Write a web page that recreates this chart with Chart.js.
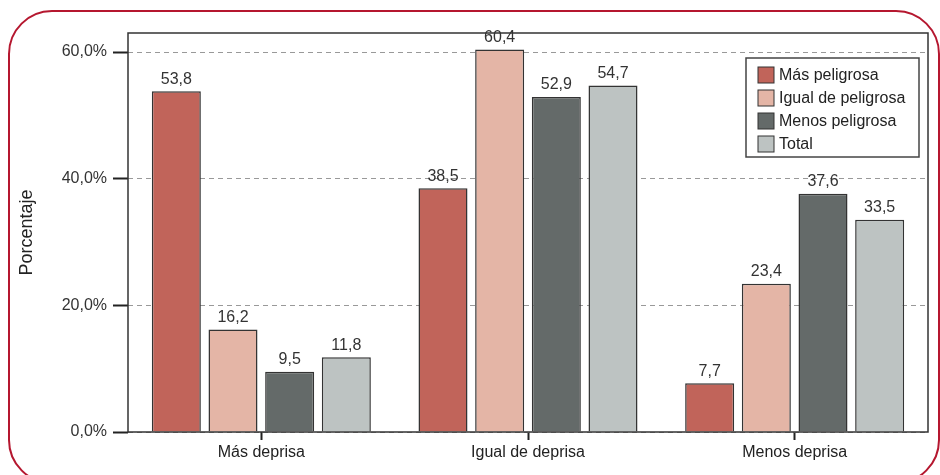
<!DOCTYPE html>
<html lang="es">
<head>
  <meta charset="UTF-8">
  <title>Porcentaje por velocidad</title>
  <script src="https://cdn.jsdelivr.net/npm/chart.js"></script>
  <style>
    html, body { margin: 0; padding: 0; background: #fff; overflow: hidden; }
    .wrap { position: relative; width: 940px; height: 475px; }
    .frame { position: absolute; left: 8px; top: 10px; width: 928px; height: 470px; border: 2.5px solid #b5172f; border-radius: 44px; }
    canvas { position: absolute; left: 0; top: 0; }
  </style>
</head>
<body>
  <div class="wrap">
    <div class="frame"></div>
    <canvas id="chart" width="940" height="475"></canvas>
  </div>

  <script>
    const categories = ["Más deprisa", "Igual de deprisa", "Menos deprisa"];
    const seriesNames = ["Más peligrosa", "Igual de peligrosa", "Menos peligrosa", "Total"];
    const masPeligrosa = [53.8, 38.5, 7.7];
    const igualPeligrosa = [16.2, 60.4, 23.4];
    const menosPeligrosa = [9.5, 52.9, 37.6];
    const total = [11.8, 54.7, 33.5];
    const yTicks = [0, 20, 40, 60];
    const colors = ["#c1645a", "#e4b5a6", "#646a69", "#bdc3c2"];

    const font = "'Liberation Sans', Arial, sans-serif";
    const fmt = v => v.toFixed(1).replace('.', ',');

    // box around the plot area, value labels and the boxed legend
    const extras = {
      id: 'extras',
      afterDatasetsDraw(chart) {
        const ctx = chart.ctx;
        const area = chart.chartArea;
        ctx.save();
        ctx.strokeStyle = '#333';
        ctx.lineWidth = 1.5;
        ctx.strokeRect(area.left, area.top, area.right - area.left, area.bottom - area.top);

        ctx.font = '16px ' + font;
        ctx.fillStyle = '#333';
        ctx.textAlign = 'center';
        ctx.textBaseline = 'bottom';
        chart.data.datasets.forEach((ds, i) => {
          chart.getDatasetMeta(i).data.forEach((bar, j) => {
            ctx.fillText(fmt(ds.data[j]), bar.x, bar.y - 4);
          });
        });

        // legend
        const bx = area.right - 182, by = area.top + 25, bw = 173, bh = 99;
        ctx.fillStyle = '#fff';
        ctx.fillRect(bx, by, bw, bh);
        ctx.strokeStyle = '#444';
        ctx.lineWidth = 1.5;
        ctx.strokeRect(bx, by, bw, bh);
        ctx.textAlign = 'left';
        ctx.textBaseline = 'middle';
        chart.data.datasets.forEach((ds, i) => {
          const cy = by + 17 + i * 23;
          ctx.fillStyle = ds.backgroundColor;
          ctx.fillRect(bx + 12, cy - 8, 16, 16);
          ctx.strokeStyle = '#333';
          ctx.lineWidth = 1;
          ctx.strokeRect(bx + 12, cy - 8, 16, 16);
          ctx.fillStyle = '#222';
          ctx.fillText(ds.label, bx + 33, cy + 1);
        });
        ctx.restore();
      }
    };

    const seriesData = [masPeligrosa, igualPeligrosa, menosPeligrosa, total];

    new Chart(document.getElementById('chart'), {
      type: 'bar',
      data: {
        labels: categories,
        datasets: seriesNames.map((name, i) => ({
          label: name,
          data: seriesData[i],
          backgroundColor: colors[i],
          borderColor: '#333',
          borderWidth: 1.5,
          categoryPercentage: 0.85,
          barPercentage: 0.865
        }))
      },
      options: {
        responsive: false,
        animation: false,
        layout: { padding: { left: 10, right: 12, top: 33, bottom: 0 } },
        plugins: { legend: { display: false }, tooltip: { enabled: false } },
        scales: {
          x: {
            afterFit: s => { s.height = 43; },
            grid: { offset: false, drawOnChartArea: false, drawTicks: true, tickLength: 8, tickColor: '#222', tickWidth: 2 },
            border: { display: false },
            ticks: { color: '#222', font: { family: font, size: 16 }, padding: 3, maxRotation: 0 }
          },
          y: {
            min: 0,
            max: 63,
            afterFit: s => { s.width = 118; },
            afterBuildTicks: s => { s.ticks = yTicks.map(v => ({ value: v })); },
            grid: { color: '#999', lineWidth: 1, drawTicks: true, tickLength: 15, tickColor: '#222', tickWidth: 2, tickBorderDash: [] },
            border: { display: false, dash: [5, 4] },
            ticks: { color: '#333', font: { family: font, size: 16 }, padding: 6, callback: v => fmt(v) + '%' },
            title: { display: true, text: 'Porcentaje', color: '#222', font: { family: font, size: 18 }, padding: { top: 6, bottom: 0 } }
          }
        }
      },
      plugins: [extras]
    });
  </script>
</body>
</html>
